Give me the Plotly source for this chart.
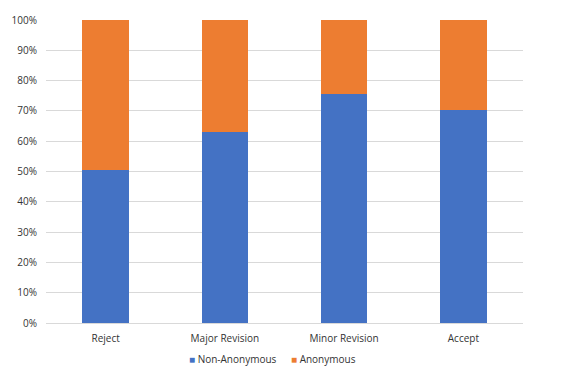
import plotly.graph_objects as go

categories = ["Reject", "Major Revision", "Minor Revision", "Accept"]
non_anonymous = [50.5, 63.1, 75.7, 70.3]
anonymous = [100 - v for v in non_anonymous]
series_names = ["Non-Anonymous", "Anonymous"]
series_colors = ["#4472C4", "#ED7D31"]
y_ticks = list(range(0, 101, 10))
y_tick_labels = [f"{t}%" for t in y_ticks]

fig = go.Figure()
for name, vals, col in zip(series_names, [non_anonymous, anonymous], series_colors):
    fig.add_trace(go.Bar(name=name, x=categories, y=vals, showlegend=False,
                         marker=dict(color=col, line=dict(width=0))))

font = dict(family="Open Sans, Liberation Sans, sans-serif", size=10, color="#333333")

# legend drawn as annotations (compact Excel-style legend)
legend_x = [0.296, 0.51]
for name, col, lx in zip(series_names, series_colors, legend_x):
    fig.add_annotation(xref="paper", yref="paper", x=lx, y=-0.118, xanchor="left", yanchor="middle",
                       text=f"<span style='color:{col}'>■</span> {name}", showarrow=False,
                       font=dict(family=font["family"], size=10, color="#333333"))

fig.update_layout(
    barmode="stack",
    bargap=0.61,
    width=570, height=367,
    margin=dict(l=46, r=47, t=20, b=44, autoexpand=False),
    paper_bgcolor="white", plot_bgcolor="white",
    font=font,
    showlegend=False,
    xaxis=dict(showgrid=False, showline=False, ticks="", tickfont=font, ticklabelstandoff=8),
    yaxis=dict(range=[0, 100], tickvals=y_ticks, ticktext=y_tick_labels,
               showgrid=True, gridcolor="#D9D9D9", gridwidth=1,
               zeroline=True, zerolinecolor="#D9D9D9", zerolinewidth=1,
               showline=False, ticks="", tickfont=font, ticklabelstandoff=8),
)
fig.write_html("out.html")
